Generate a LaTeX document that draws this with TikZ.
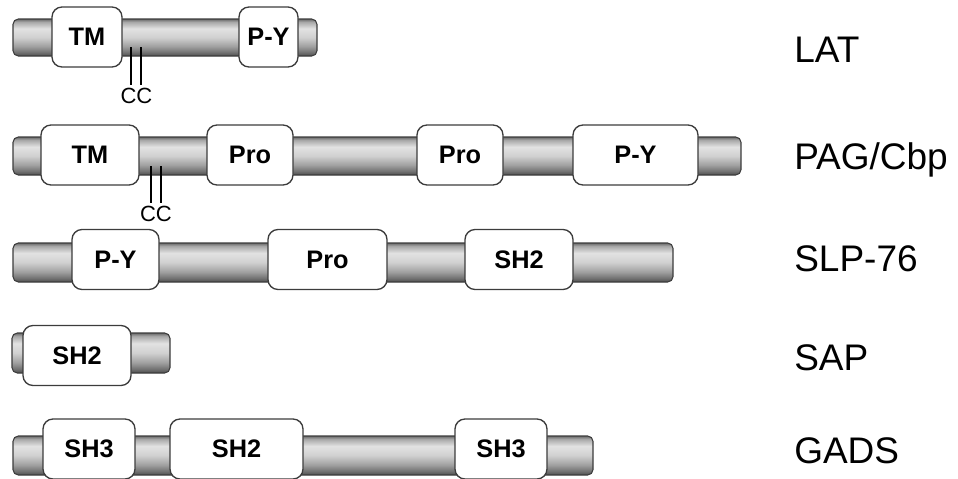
\documentclass[tikz,border=0pt]{standalone}
\usepackage{fontspec}
\setmainfont{Liberation Sans}
\definecolor{bT}{HTML}{6A6A6A}
\definecolor{bU}{HTML}{A8A8A8}
\definecolor{bL}{HTML}{E2E2E2}
\definecolor{bM}{HTML}{D0D0D0}
\definecolor{bN}{HTML}{A0A0A0}
\definecolor{bO}{HTML}{727272}
\definecolor{bB}{HTML}{4E4E4E}
\definecolor{edge}{HTML}{3C3C3C}
\pgfdeclareverticalshading{barshade}{100bp}{color(0bp)=(bB); color(25bp)=(bB); color(30bp)=(bO); color(38bp)=(bN); color(50bp)=(bM); color(62bp)=(bL); color(71bp)=(bU); color(75bp)=(bT); color(100bp)=(bT)}
\begin{document}
\begin{tikzpicture}[x=0.75pt,y=-0.75pt,
  bar/.style={shading=barshade, draw=edge, line width=0.8pt, rounded corners=4pt},
  dom/.style={draw=edge, fill=white, line width=1pt, rounded corners=7.5pt,
    minimum width=#1*0.75pt, minimum height=45pt, inner sep=0pt,
    font=\fontsize{19}{20}\selectfont\bfseries},
  dom/.default=80,
  lab/.style={anchor=base west, inner sep=0pt, font=\fontsize{27.75}{30}\selectfont},
  cclab/.style={inner sep=0pt, font=\fontsize{16.5}{18}\selectfont},
  ccline/.style={line width=1.5pt, black}]
\useasboundingbox (0,0) rectangle (958,479);
% ---------------- LAT
\shadedraw[bar] (13,19) rectangle (317,56);
\node[dom=70] (lat-tm) at (87,37) {TM};
\node[dom=59] (lat-py) at (268.5,37) {P-Y};
\coordinate (lat-c1a) at (131,47); \coordinate (lat-c1b) at (131,85);
\coordinate (lat-c2a) at (141,47); \coordinate (lat-c2b) at (141,85);
\draw[ccline] (lat-c1a) -- (lat-c1b);
\draw[ccline] (lat-c2a) -- (lat-c2b);
\node[cclab, anchor=north] (lat-cc) at (136.5,88) {CC};
\node[lab] (lat) at (794,62) {LAT};
% ---------------- PAG/Cbp
\shadedraw[bar] (13,137) rectangle (741,175);
\node[dom=98] (pag-tm) at (90,155) {TM};
\node[dom=86] (pag-pro1) at (250,155) {Pro};
\node[dom=86] (pag-pro2) at (460,155) {Pro};
\node[dom=125] (pag-py) at (635.5,155) {P-Y};
\coordinate (pag-c1a) at (151,166); \coordinate (pag-c1b) at (151,203);
\coordinate (pag-c2a) at (161,166); \coordinate (pag-c2b) at (161,203);
\draw[ccline] (pag-c1a) -- (pag-c1b);
\draw[ccline] (pag-c2a) -- (pag-c2b);
\node[cclab, anchor=north] (pag-cc) at (156,206) {CC};
\node[lab] (pag) at (794,169) {PAG/Cbp};
% ---------------- SLP-76
\shadedraw[bar] (13,243) rectangle (673,282);
\node[dom=87] (slp-py) at (115.5,259.5) {P-Y};
\node[dom=119] (slp-pro) at (327.5,259.5) {Pro};
\node[dom=108] (slp-sh2) at (519,259.5) {SH2};
\node[lab] (slp) at (794,271) {SLP-76};
% ---------------- SAP
\shadedraw[bar] (12,333) rectangle (170,373);
\node[dom=108] (sap-sh2) at (77,355.5) {SH2};
\node[lab] (sap) at (794,370) {SAP};
% ---------------- GADS
\shadedraw[bar] (13,436) rectangle (593,475);
\node[dom=92] (gads-sh3a) at (89,449) {SH3};
\node[dom=133] (gads-sh2) at (236.5,449) {SH2};
\node[dom=92] (gads-sh3b) at (501,449) {SH3};
\node[lab] (gads) at (794,463) {GADS};
\end{tikzpicture}
\end{document}
